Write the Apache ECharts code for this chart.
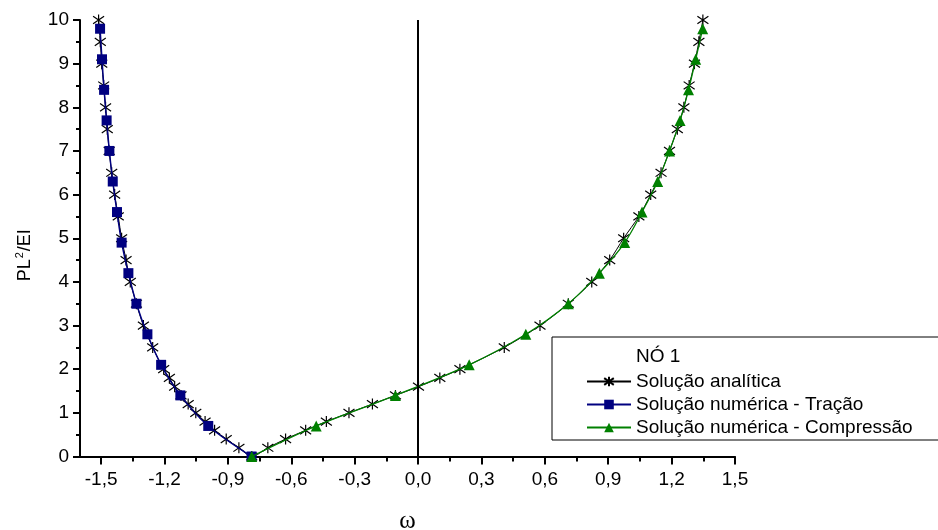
<!DOCTYPE html>
<html><head><meta charset="utf-8">
<script src="https://cdn.jsdelivr.net/npm/echarts@6/dist/echarts.min.js"></script>
<style>html,body{margin:0;padding:0;background:#fff}#c{width:938px;height:530px}</style>
</head><body><div id="c"></div>
<script>
// Solução analítica (left branch top->bottom, then right branch bottom->top)
const omegaAnalytical = [-1.512,-1.504,-1.497,-1.488,-1.479,-1.471,-1.462,-1.450,-1.436,-1.419,-1.403,-1.382,-1.362,-1.333,-1.300,-1.256,-1.204,-1.177,-1.152,-1.122,-1.088,-1.052,-1.008,-0.963,-0.908,-0.848,-0.787,
  -0.711,-0.627,-0.532,-0.434,-0.327,-0.216,-0.107,0.002,0.103,0.198,0.408,0.577,0.711,0.822,0.907,0.973,1.045,1.101,1.150,1.190,1.227,1.258,1.283,1.308,1.329,1.348];
const pAnalytical = [10,9.5,9,8.5,8,7.5,7,6.5,6,5.5,5,4.5,4,3.5,3,2.5,2,1.8,1.6,1.4,1.2,1.0,0.8,0.6,0.4,0.2,0,
  0.2,0.4,0.6,0.8,1.0,1.2,1.4,1.6,1.8,2.0,2.5,3.0,3.5,4.0,4.5,5.0,5.5,6.0,6.5,7.0,7.5,8.0,8.5,9.0,9.5,10];
// Solução numérica - Tração
const omegaTracao = [-0.788,-0.993,-1.125,-1.216,-1.281,-1.333,-1.371,-1.403,-1.425,-1.445,-1.461,-1.474,-1.486,-1.496,-1.505];
const pTracao = [0,0.7,1.4,2.1,2.8,3.5,4.2,4.9,5.6,6.3,7.0,7.7,8.4,9.1,9.8];
// Solução numérica - Compressão
const omegaCompressao = [-0.787,-0.482,-0.107,0.242,0.510,0.711,0.858,0.978,1.060,1.134,1.190,1.240,1.280,1.314,1.347];
const pCompressao = [0,0.7,1.4,2.1,2.8,3.5,4.2,4.9,5.6,6.3,7.0,7.7,8.4,9.1,9.8];
// ticks
const xTickLabels = [-1.5,-1.2,-0.9,-0.6,-0.3,0.0,0.3,0.6,0.9,1.2,1.5];
const xMinorTicks = [-1.35,-1.05,-0.75,-0.45,-0.15,0.15,0.45,0.75,1.05,1.35];
const yTickLabels = [0,1,2,3,4,5,6,7,8,9,10];
const legendTitle = 'NÓ 1';
const seriesNames = ['Solução analítica','Solução numérica - Tração','Solução numérica - Compressão'];

const zip = (a,b) => a.map((v,i)=>[v,b[i]]);
const FONT = 'Liberation Sans';
const chart = echarts.init(document.getElementById('c'));
const fmt = v => Number(v).toFixed(1).replace('.', ',');
chart.setOption({
  animation:false,
  backgroundColor:'#fff',
  grid:{left:80, top:20, width:655, bottom:73.5, containLabel:false, outerBoundsMode:'none'},
  xAxis:[{
    type:'value', min:-1.6, max:1.5, position:'bottom',
    name:'ω', nameLocation:'middle', nameGap:52,
    nameTextStyle:{fontFamily:'Liberation Serif', fontSize:25, color:'#000'},
    axisLine:{show:true, onZero:false, lineStyle:{color:'#000', width:2}},
    axisTick:{show:true, inside:false, length:8, lineStyle:{color:'#000', width:2}, customValues:xTickLabels},
    axisLabel:{color:'#000', fontFamily:FONT, fontSize:19, margin:14, customValues:xTickLabels, formatter:fmt},
    splitLine:{show:false}
  },{
    type:'value', min:-1.6, max:1.5, position:'bottom', offset:0,
    axisLine:{show:false, onZero:false},
    axisTick:{show:true, length:5, lineStyle:{color:'#000', width:2}, customValues:xMinorTicks},
    axisLabel:{show:false}, splitLine:{show:false}
  }],
  yAxis:{
    type:'value', min:0, max:10, interval:1,
    name:'{a|PL}{b|2}{a|/EI}', nameLocation:'middle', nameGap:43,
    nameTextStyle:{color:'#000', padding:[0,34,0,0], rich:{
      a:{fontFamily:FONT, fontSize:18, color:'#000'},
      b:{fontFamily:FONT, fontSize:11, color:'#000', padding:[0,1,12,1]}
    }},
    axisLine:{show:true, onZero:false, lineStyle:{color:'#000', width:2}},
    axisTick:{show:true, length:7, lineStyle:{color:'#000', width:2}},
    minorTick:{show:true, splitNumber:2, length:4, lineStyle:{color:'#000', width:2}},
    axisLabel:{color:'#000', fontFamily:FONT, fontSize:19, margin:11, customValues:yTickLabels},
    splitLine:{show:false}
  },
  legend:{
    orient:'vertical', left:552, top:337,
    itemWidth:44, itemHeight:12, itemGap:4,
    padding:[35,260,3,34],
    borderColor:'#000', borderWidth:1,
    textStyle:{fontFamily:FONT, fontSize:19, color:'#000'},
    data:seriesNames
  },
  graphic:[{type:'text', left:636, top:347, style:{text:legendTitle, font:'19px "Liberation Sans"', fill:'#000'}}],
  series:[{
    name:seriesNames[0], type:'line', data:zip(omegaAnalytical,pAnalytical),
    smooth:0.3, z:2,
    symbol:'path://M5,0L5,10M0,1.5L10,8.5M0,8.5L10,1.5', symbolSize:[11,11],
    itemStyle:{color:'#000', borderColor:'#000', borderWidth:1.2},
    lineStyle:{color:'#000', width:1},
    markLine:{silent:true, symbol:'none', label:{show:false}, lineStyle:{color:'#000', width:2, type:'solid'}, data:[{xAxis:0}]}
  },{
    name:seriesNames[1], type:'line', data:zip(omegaTracao,pTracao),
    smooth:0.3, z:3,
    symbol:'rect', symbolSize:10,
    itemStyle:{color:'#000080'},
    lineStyle:{color:'#000080', width:1.5}
  },{
    name:seriesNames[2], type:'line', data:zip(omegaCompressao,pCompressao),
    smooth:0.3, z:4,
    symbol:'triangle', symbolSize:11,
    itemStyle:{color:'#008000'},
    lineStyle:{color:'#008000', width:1.3}
  }]
});
</script></body></html>
